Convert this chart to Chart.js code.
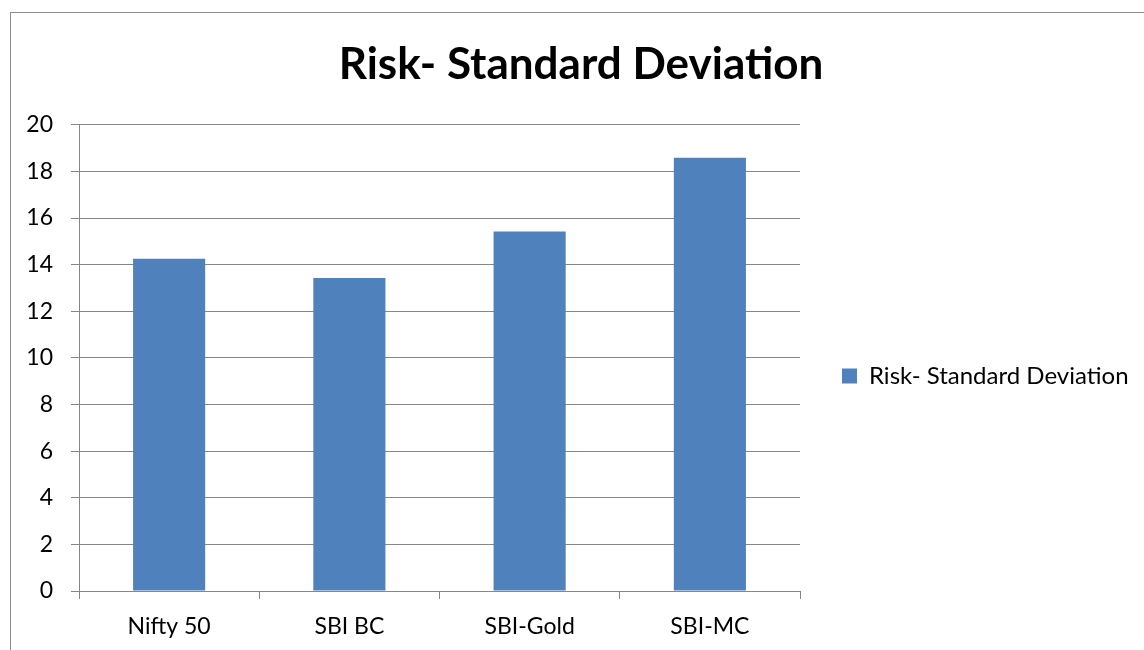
<!DOCTYPE html>
<html>
<head>
<meta charset="utf-8">
<script src="https://cdn.jsdelivr.net/npm/chart.js@4"></script>
<style>
 html, body { margin: 0; padding: 0; background: #fff; }
 #wrap { width: 1144px; height: 650px; position: relative; }
</style>
</head>
<body>
<div id="wrap"><canvas id="riskChart" width="1144" height="650"></canvas></div>
<script>
const categories = ['Nifty 50', 'SBI BC', 'SBI-Gold', 'SBI-MC'];
const stdDev = [14.25, 13.43, 15.42, 18.59];
const yTicks = [0, 2, 4, 6, 8, 10, 12, 14, 16, 18, 20];

const gridGrey = '#878787';
const fontFamily = 'Lato, "Noto Sans", sans-serif';

// outer chart frame (cut off at right and bottom like the screenshot)
const framePlugin = {
 id: 'frame',
 beforeDraw(chart) {
  const c = chart.ctx;
  c.save();
  c.strokeStyle = '#8c8c8c';
  c.lineWidth = 1;
  c.strokeRect(10.5, 12.5, 2000, 2000);
  c.restore();
 }
};

// layout caps a side legend at a quarter of the width; give it the room it needs
const legendWidthPlugin = {
 id: 'legendWidth',
 afterInit(chart) {
  const legend = chart.legend;
  const fit = legend.fit;
  legend.fit = function () {
   fit.call(this);
   this.width = 338;
  };
 }
};

let riskCtx = document.getElementById('riskChart').getContext('2d');
let riskChart = new Chart(riskCtx, {
 type: 'bar',
 data: {
  labels: categories,
  datasets: [
   {
    label: 'Risk- Standard Deviation',
    data: stdDev,
    backgroundColor: '#4f81bd',
    borderWidth: 0,
    barPercentage: 0.4,
    categoryPercentage: 1,
   }
  ]
 },
 options: {
  responsive: false,
  animation: false,
  layout: { padding: { left: 24, right: 6, top: 0, bottom: 0 } },
  plugins: {
   title: {
    display: true,
    text: 'Risk- Standard Deviation',
    color: '#000',
    font: { family: fontFamily, size: 44, weight: 'bold' },
    padding: { top: 38, bottom: 34 },
   },
   legend: {
    position: 'right',
    // empty title only pushes the legend entry down to the plot middle
    title: { display: true, text: '', font: { size: 10, lineHeight: 1 }, padding: { top: 92, bottom: 0 } },
    labels: {
     color: '#000',
     font: { family: fontFamily, size: 24 },
     boxWidth: 15,
     boxHeight: 15,
     padding: 42,
    }
   },
   tooltip: { enabled: false }
  },
  scales: {
   x: {
    grid: {
     offset: true,
     drawOnChartArea: false,
     drawTicks: true,
     tickLength: 8,
     color: gridGrey,
    },
    border: { color: gridGrey },
    ticks: { color: '#000', font: { family: fontFamily, size: 23 }, padding: 14 },
    afterFit(scale) { scale.height = 59; }
   },
   y: {
    min: 0,
    max: 20,
    afterBuildTicks(scale) { scale.ticks = yTicks.map(v => ({ value: v })); },
    grid: { color: gridGrey, tickLength: 8 },
    border: { color: gridGrey },
    ticks: { color: '#000', font: { family: fontFamily, size: 23 }, padding: 18 },
    afterFit(scale) { scale.width = 55; }
   }
  }
 },
 plugins: [framePlugin, legendWidthPlugin]
});
</script>
</body>
</html>
